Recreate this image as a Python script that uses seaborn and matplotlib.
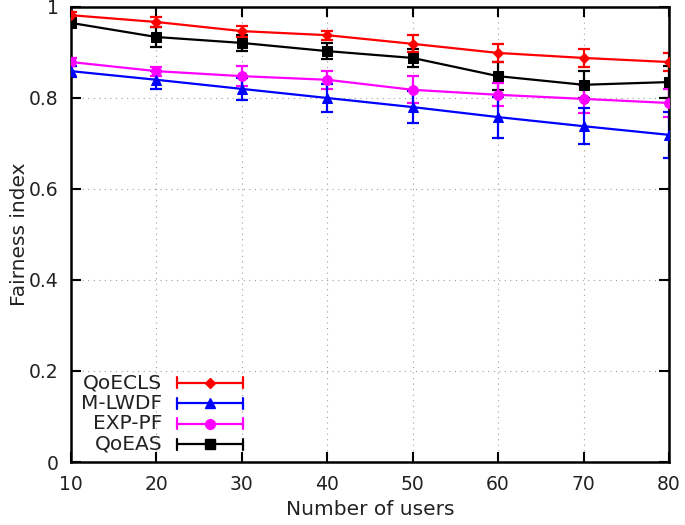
import numpy as np
import pandas as pd
import matplotlib
matplotlib.use("Agg")
import matplotlib.pyplot as plt
import seaborn as sns
from matplotlib.legend_handler import HandlerBase
from matplotlib.lines import Line2D

# data
users = [10, 20, 30, 40, 50, 60, 70, 80]
schemes = ["QoECLS", "M-LWDF", "EXP-PF", "QoEAS"]
qoecls = [0.982, 0.967, 0.947, 0.938, 0.919, 0.899, 0.888, 0.879]
mlwdf = [0.859, 0.840, 0.820, 0.800, 0.780, 0.758, 0.738, 0.719]
exppf = [0.879, 0.859, 0.848, 0.840, 0.818, 0.807, 0.798, 0.789]
qoeas = [0.965, 0.934, 0.921, 0.903, 0.888, 0.848, 0.829, 0.835]
qoecls_err = [0.008, 0.012, 0.012, 0.010, 0.019, 0.020, 0.020, 0.019]
mlwdf_err = [0.012, 0.020, 0.025, 0.030, 0.035, 0.045, 0.040, 0.050]
exppf_err = [0.008, 0.010, 0.022, 0.020, 0.030, 0.025, 0.030, 0.030]
qoeas_err = [0.010, 0.021, 0.017, 0.017, 0.020, 0.030, 0.030, 0.035]

colors = {"QoECLS": "#ff0000", "M-LWDF": "#0000ff", "EXP-PF": "#ff00ff", "QoEAS": "#000000"}
markers = {"QoECLS": "D", "M-LWDF": "^", "EXP-PF": "o", "QoEAS": "s"}
msizes = {"QoECLS": 5, "M-LWDF": 7, "EXP-PF": 7, "QoEAS": 7}

values = {"QoECLS": qoecls, "M-LWDF": mlwdf, "EXP-PF": exppf, "QoEAS": qoeas}
errors = {"QoECLS": qoecls_err, "M-LWDF": mlwdf_err, "EXP-PF": exppf_err, "QoEAS": qoeas_err}

sns.set_style("ticks")
plt.rcParams["font.family"] = ["DejaVu Sans"]

fig = plt.figure(figsize=(6.85, 5.25), dpi=100)
ax = fig.add_axes([0.1036, 0.12, 0.873, 0.8667])

# draw in reverse so red ends up on top
for s in schemes[::-1]:
    ax.errorbar(users, values[s], yerr=errors[s], fmt="none", ecolor=colors[s],
                elinewidth=1.6, capsize=4, capthick=1.6, zorder=2)
    sns.lineplot(x=users, y=values[s], color=colors[s], marker=markers[s],
                 markersize=msizes[s], markeredgecolor=colors[s], linewidth=1.6,
                 ax=ax, zorder=3, legend=False)

ax.set_xlim(10, 80)
ax.set_ylim(0, 1)
ax.set_xticks(users)
ax.set_yticks([0, 0.2, 0.4, 0.6, 0.8, 1.0])
ax.set_yticklabels(["0", "0.2", "0.4", "0.6", "0.8", "1"])
ax.grid(True, linestyle=(0, (1, 4)), color="#a0a0a0", linewidth=0.8)
ax.tick_params(direction="in", length=7, width=1.5, top=True, right=True,
               labelsize=13.5, colors="black", labelcolor="#222222")
ax.tick_params(axis="x", pad=9)
ax.tick_params(axis="y", pad=9)
for sp in ax.spines.values():
    sp.set_linewidth(1.8)
    sp.set_color("black")
ax.set_xlabel("Number of users", fontsize=14.5, color="#222222", labelpad=5)
ax.set_ylabel("Fairness index", fontsize=14.5, color="#222222", labelpad=0)


class ErrHandler(HandlerBase):
    def create_artists(self, legend, orig, xd, yd, width, height, fontsize, trans):
        y = yd + height / 2 - 1
        c = orig.get_color()
        line = Line2D([xd, xd + width], [y, y], color=c, lw=1.6, transform=trans)
        cap1 = Line2D([xd, xd], [y - 4, y + 4], color=c, lw=1.6, transform=trans)
        cap2 = Line2D([xd + width, xd + width], [y - 4, y + 4], color=c, lw=1.6, transform=trans)
        mk = Line2D([xd + width / 2], [y], marker=orig.get_marker(), color=c,
                    markersize=orig.get_markersize(), ls="none", transform=trans)
        return [line, cap1, cap2, mk]


handles = [Line2D([], [], color=colors[s], marker=markers[s], markersize=msizes[s]) for s in schemes]
leg = ax.legend(handles, schemes, handler_map={Line2D: ErrHandler()},
                loc="lower left", bbox_to_anchor=(0.0, -0.004), markerfirst=False,
                frameon=False, fontsize=14.5, handlelength=3.25, handletextpad=0.75,
                labelspacing=0.07, borderaxespad=0.1)
for t in leg.get_texts():
    t.set_ha("right")
    t.set_color("#222222")
leg._legend_box.align = "right"

fig.savefig("out.png", dpi=100)
